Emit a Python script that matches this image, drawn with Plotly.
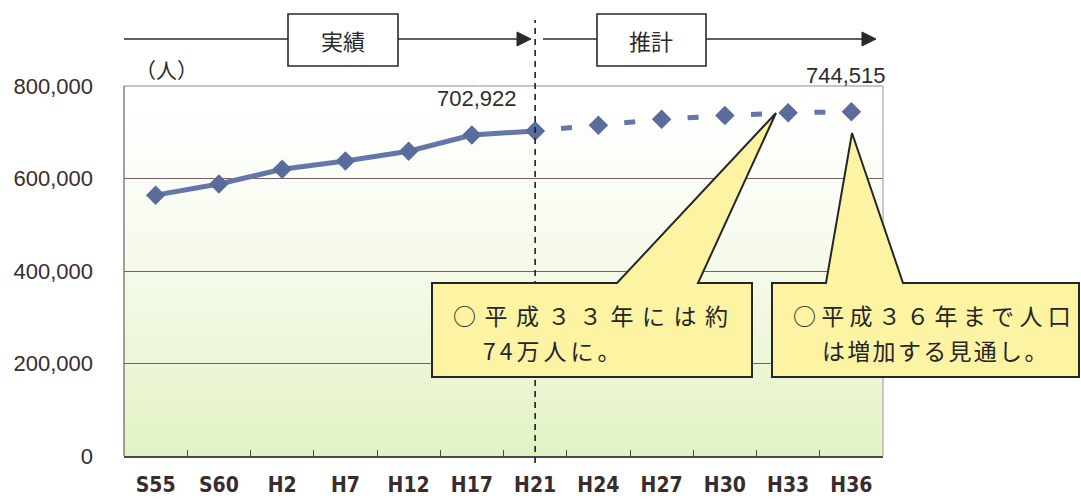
import plotly.graph_objects as go

# Census years (Showa / Heisei) and population
years = ["S55", "S60", "H2", "H7", "H12", "H17", "H21",
         "H24", "H27", "H30", "H33", "H36"]
actual_years = years[:7]
actual_pop = [564000, 588000, 620000, 638000, 659000, 694000, 702922]
proj_years = years[6:]
proj_pop = [702922, 715000, 728000, 736000, 742000, 744515]

y_ticks = [0, 200000, 400000, 600000, 800000]

header_left = "実績"
header_right = "推計"
unit_label = "（人）"
note1 = ["○平成３３年には約", "74万人に。"]
note2 = ["○平成３６年まで人口", "は増加する見通し。"]

# plot-area geometry in pixels (used for decorations in paper coords)
L, R, T, B = 124, 883, 86, 456
W, H = 1081, 499


def fx(px):
    return (px - L) / (R - L)


def fy(py):
    return (B - py) / (B - T)


def path(points):
    s = "M " + " L ".join(f"{fx(x):.5f},{fy(y):.5f}" for x, y in points)
    return s + " Z"


MARK = "#5a6c9c"
LINE = "#6577a8"
INK = "#3a2c2c"

fig = go.Figure()

# projected (dashed, one short dash centred between markers)
fig.add_trace(go.Scatter(
    x=proj_years, y=proj_pop, mode="lines+markers",
    line=dict(color=LINE, width=5, dash="0px,26px,11px,26.5px"),
    marker=dict(symbol="diamond", size=15, color=MARK),
    hoverinfo="skip", showlegend=False,
))
# actual (solid)
fig.add_trace(go.Scatter(
    x=actual_years, y=actual_pop, mode="lines+markers",
    line=dict(color=LINE, width=5),
    marker=dict(symbol="diamond", size=15, color=MARK),
    hoverinfo="skip", showlegend=False,
))

shapes = []

# soft white-to-green background of the plot area
N = 70
top_c = (255, 255, 255)
bot_c = (226, 242, 196)
for i in range(N):
    t = 1 - (i + 0.5) / N
    t = t ** 1.4
    c = tuple(round(a + (b - a) * t) for a, b in zip(top_c, bot_c))
    shapes.append(dict(
        type="rect", xref="paper", yref="paper",
        x0=0, x1=1, y0=i / N, y1=(i + 1) / N + 0.002,
        fillcolor=f"rgb{c}", line=dict(width=0), layer="below",
    ))

# plot border
shapes.append(dict(type="line", xref="paper", yref="paper", x0=0, x1=1, y0=1, y1=1,
                   line=dict(color="#8e8e8e", width=1.2), layer="above"))
shapes.append(dict(type="line", xref="paper", yref="paper", x0=1, x1=1, y0=0, y1=1,
                   line=dict(color="#a8a8a8", width=1.2), layer="above"))
shapes.append(dict(type="line", xref="paper", yref="paper", x0=0, x1=0, y0=0, y1=1,
                   line=dict(color="#6e6e6e", width=1.3), layer="above"))

# divider between actual and projected
shapes.append(dict(type="line", xref="x", yref="paper", x0="H21", x1="H21",
                   y0=fy(463), y1=fy(20),
                   line=dict(color="#1e1e1e", width=1.6, dash="6px,5px"), layer="above"))

# header arrows with labelled boxes
for x0, x1, bx0, bx1 in [(124, 519, 288, 398), (543, 864, 597, 706)]:
    shapes.append(dict(type="line", xref="paper", yref="paper",
                       x0=fx(x0), x1=fx(x1), y0=fy(39), y1=fy(39),
                       line=dict(color="#2a2a2a", width=1.6)))
    shapes.append(dict(type="path", xref="paper", yref="paper",
                       path=path([(x1 - 2, 32), (x1 + 12, 39), (x1 - 2, 46)]),
                       fillcolor="#2a2a2a", line=dict(color="#2a2a2a", width=1)))
    shapes.append(dict(type="rect", xref="paper", yref="paper",
                       x0=fx(bx0), x1=fx(bx1), y0=fy(66), y1=fy(14),
                       fillcolor="white", line=dict(color="#2a2a2a", width=1.6)))

# speech-bubble callouts
YEL = "#fcf4a2"
shapes.append(dict(type="path", xref="paper", yref="paper",
                   path=path([(432, 283), (617, 283), (776, 113), (698, 283),
                              (752, 283), (752, 377), (432, 377)]),
                   fillcolor=YEL, line=dict(color="#262626", width=2), layer="above"))
shapes.append(dict(type="path", xref="paper", yref="paper",
                   path=path([(772, 283), (826, 283), (852, 133), (903, 283),
                              (1079, 283), (1079, 377), (772, 377)]),
                   fillcolor=YEL, line=dict(color="#262626", width=2), layer="above"))

annotations = []


def ann(text, px, py, size, xanchor="center", family="Noto Sans CJK JP", color=INK):
    annotations.append(dict(
        text=text, x=fx(px), y=fy(py), xref="paper", yref="paper",
        xanchor=xanchor, yanchor="middle", showarrow=False,
        font=dict(family=family, size=size, color=color),
    ))


ann(header_left, 343, 40, 22, color="#2a2a2a")
ann(header_right, 651, 40, 22, color="#2a2a2a")
ann(unit_label, 166, 69, 21, color="#2a2a2a")

# value labels for the first and last points
ann(f"{actual_pop[-1]:,}", 477, 98, 22, family="Liberation Sans", color="#2e2e2e")
ann(f"{proj_pop[-1]:,}", 888, 75, 22, xanchor="right", family="Liberation Sans", color="#2e2e2e")


def spaced(text, sp):
    return f'<span style="letter-spacing:{sp}px">{text}</span>'


ann(spaced(note1[0], 8.5), 451, 315, 23, xanchor="left", color="#262626")
ann(spaced(note1[1], 4), 481, 350, 23, xanchor="left", color="#262626")
ann(spaced(note2[0], 5.3), 791, 315, 23, xanchor="left", color="#262626")
ann(spaced(note2[1], 2.3), 820, 350, 23, xanchor="left", color="#262626")

fig.update_layout(
    width=W, height=H,
    margin=dict(l=L, r=W - R, t=T, b=H - B, autoexpand=False),
    paper_bgcolor="white", plot_bgcolor="rgba(0,0,0,0)",
    shapes=shapes, annotations=annotations,
    showlegend=False,
)
fig.update_xaxes(
    type="category", categoryorder="array", categoryarray=years,
    range=[-0.5, len(years) - 0.5], automargin=False,
    showgrid=False, showline=True, linecolor="#4a4a4a", linewidth=1.6,
    ticks="inside", tickson="boundaries", ticklen=6, tickcolor="#4a4a4a", tickwidth=1,
    tickfont=dict(family="DejaVu Sans Condensed, Liberation Sans Narrow, sans-serif",
                  size=21, color=INK, weight="bold"),
    ticklabelstandoff=9, zeroline=False,
)
fig.update_yaxes(
    range=[0, 800000], tickvals=y_ticks, tickformat=",d", automargin=False,
    showgrid=True, gridcolor="#7a5e5e", gridwidth=1,
    showline=False, zeroline=False, ticks="",
    tickfont=dict(family="Liberation Sans", size=22, color=INK),
    ticklabelstandoff=30,
)

fig.write_html("out.html")
